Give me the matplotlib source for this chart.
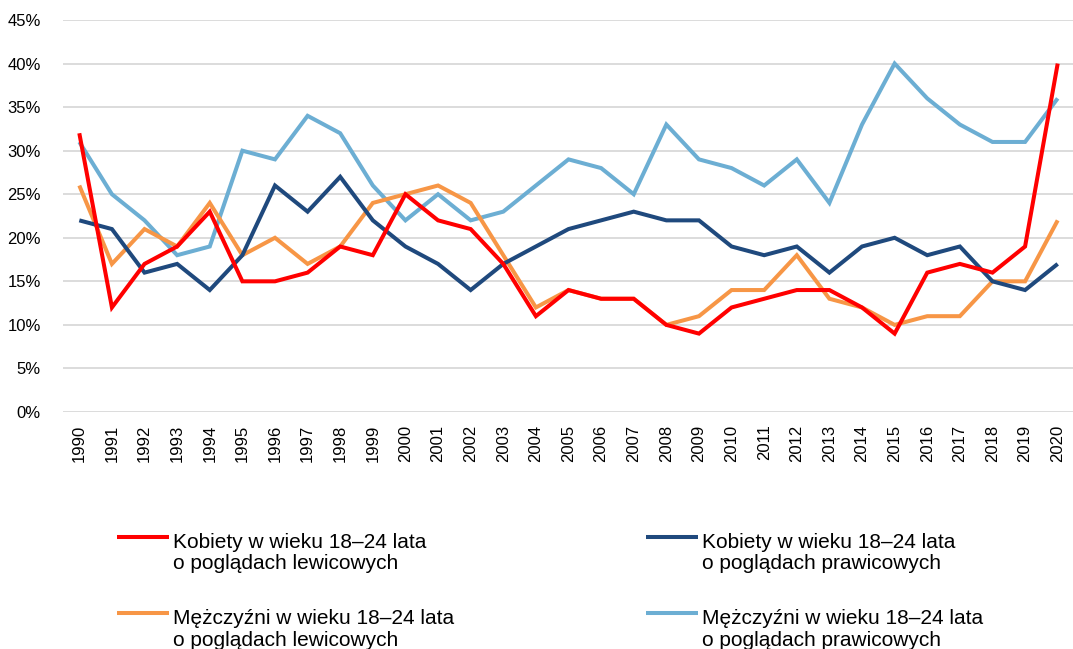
import matplotlib
matplotlib.use("Agg")
import matplotlib.pyplot as plt
from matplotlib.lines import Line2D
from matplotlib.ticker import FuncFormatter, MultipleLocator

plt.rcParams['font.family'] = ['Liberation Sans', 'DejaVu Sans']

years = list(range(1990, 2021))

kobiety_lewicowe = [32, 12, 17, 19, 23, 15, 15, 16, 19, 18, 25, 22, 21, 17, 11, 14, 13, 13,
                    10, 9, 12, 13, 14, 14, 12, 9, 16, 17, 16, 19, 40]
kobiety_prawicowe = [22, 21, 16, 17, 14, 18, 26, 23, 27, 22, 19, 17, 14, 17, 19, 21, 22, 23,
                     22, 22, 19, 18, 19, 16, 19, 20, 18, 19, 15, 14, 17]
mezczyzni_lewicowe = [26, 17, 21, 19, 24, 18, 20, 17, 19, 24, 25, 26, 24, 18, 12, 14, 13, 13,
                      10, 11, 14, 14, 18, 13, 12, 10, 11, 11, 15, 15, 22]
mezczyzni_prawicowe = [31, 25, 22, 18, 19, 30, 29, 34, 32, 26, 22, 25, 22, 23, 26, 29, 28, 25,
                       33, 29, 28, 26, 29, 24, 33, 40, 36, 33, 31, 31, 36]

labels = [
    "Kobiety w wieku 18–24 lata\no poglądach lewicowych",
    "Mężczyźni w wieku 18–24 lata\no poglądach lewicowych",
    "Kobiety w wieku 18–24 lata\no poglądach prawicowych",
    "Mężczyźni w wieku 18–24 lata\no poglądach prawicowych",
]
series = [kobiety_lewicowe, mezczyzni_lewicowe, kobiety_prawicowe, mezczyzni_prawicowe]
colors = ["#ff0000", "#f79646", "#1f497d", "#6caed3"]

W, H = 1073, 649
fig = plt.figure(figsize=(W / 100, H / 100), dpi=100)
ax = fig.add_axes([63 / W, (H - 412) / H, 1011 / W, 392 / H])

# draw order: light blue, orange, dark blue, red on top
draw_order = [3, 1, 2, 0]
for i in draw_order:
    ax.plot(years, series[i], color=colors[i], lw=2.9, label=labels[i],
            solid_joinstyle='miter', solid_capstyle='butt', zorder=3)

ax.set_ylim(0, 45)
ax.set_xlim(1989.5, 2020.5)
ax.yaxis.set_major_locator(MultipleLocator(5))
ax.yaxis.set_major_formatter(FuncFormatter(lambda v, p: f"{int(round(v))}%"))
ax.set_xticks(years)
ax.set_xticklabels([str(y) for y in years], rotation=90)
ax.grid(axis='y', color='#d9d9d9', lw=1.3, zorder=0)
ax.set_axisbelow(True)
for s in ax.spines.values():
    s.set_visible(False)
ax.tick_params(axis='both', length=0, labelsize=12, colors='#000000')
ax.tick_params(axis='y', pad=16)
ax.tick_params(axis='x', pad=9)

# legend (two columns, key line aligned with the first text line)
col_x = [117, 646]          # key start, pixels
key_len = 52
text_gap = 4
row_base = [545.7, 622.3]   # first-line baselines, pixels from top
line_step = 23.5
for k in range(4):
    col, row = divmod(k, 2)
    x0 = col_x[col]
    yb = row_base[row]
    yk = yb - 9
    fig.add_artist(Line2D([x0 / W, (x0 + key_len) / W], [1 - yk / H, 1 - yk / H],
                          transform=fig.transFigure, color=colors[k], lw=2.9,
                          solid_capstyle='butt'))
    # va='baseline' aligns the last line's baseline
    fig.text((x0 + key_len + text_gap) / W, 1 - (yb + line_step) / H, labels[k],
             fontsize=15, ha='left', va='baseline', linespacing=1.18, color='#000000')

fig.savefig("out.png", dpi=100)
